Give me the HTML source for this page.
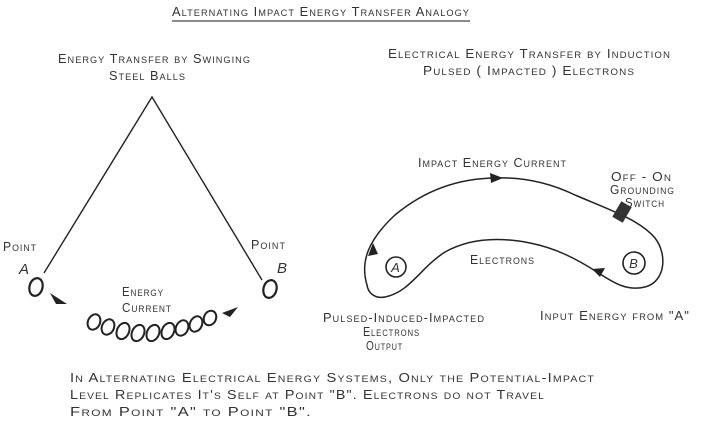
<!DOCTYPE html>
<html><head><meta charset="utf-8"><style>
html,body{margin:0;padding:0;background:#fff;}
svg text{font-family:"Liberation Sans",sans-serif;font-variant:small-caps;fill:#333;font-size:12.5px;letter-spacing:1px;}
</style></head><body>
<svg width="701" height="423" viewBox="0 0 701 423" xmlns="http://www.w3.org/2000/svg">
<text x="172" y="16" textLength="298" lengthAdjust="spacingAndGlyphs">Alternating Impact Energy Transfer Analogy</text>
<line x1="172" y1="21" x2="470" y2="21" stroke="#444" stroke-width="1.3"/>
<text x="58" y="63" textLength="193" lengthAdjust="spacingAndGlyphs">Energy Transfer by Swinging</text>
<text x="109" y="80" textLength="77" lengthAdjust="spacingAndGlyphs">Steel Balls</text>
<text x="388" y="58" textLength="283" lengthAdjust="spacingAndGlyphs">Electrical Energy Transfer by Induction</text>
<text x="423" y="75" textLength="212" lengthAdjust="spacingAndGlyphs">Pulsed ( Impacted ) Electrons</text>
<path d="M44,273 L152,97 L262,280" fill="none" stroke="#222" stroke-width="1.4"/>
<text x="3" y="251" textLength="34" lengthAdjust="spacingAndGlyphs">Point</text>
<text x="251" y="249" textLength="35" lengthAdjust="spacingAndGlyphs">Point</text>
<text x="19" y="274" style="font-style:italic;font-size:15px;font-variant:normal">A</text>
<text x="277" y="273" style="font-style:italic;font-size:15px;font-variant:normal">B</text>
<ellipse cx="36" cy="287" rx="6.5" ry="9" fill="none" stroke="#222" stroke-width="2.2" transform="rotate(15 36 287)"/>
<ellipse cx="270" cy="289" rx="6.5" ry="9" fill="none" stroke="#222" stroke-width="2.2" transform="rotate(15 270 289)"/>
<text x="122" y="296" textLength="42" lengthAdjust="spacingAndGlyphs">Energy</text>
<text x="122" y="312" textLength="50" lengthAdjust="spacingAndGlyphs">Current</text>
<g fill="none" stroke="#222" stroke-width="2">
<ellipse cx="94" cy="322" rx="6" ry="8" transform="rotate(25 94 322)"/>
<ellipse cx="108" cy="327" rx="6" ry="8" transform="rotate(25 108 327)"/>
<ellipse cx="123" cy="331" rx="6" ry="8.5" transform="rotate(25 123 331)"/>
<ellipse cx="138" cy="333" rx="6" ry="8.5" transform="rotate(25 138 333)"/>
<ellipse cx="153" cy="333" rx="6" ry="8.5" transform="rotate(25 153 333)"/>
<ellipse cx="168" cy="331" rx="6" ry="8.5" transform="rotate(25 168 331)"/>
<ellipse cx="182" cy="328" rx="6" ry="8" transform="rotate(25 182 328)"/>
<ellipse cx="196" cy="324" rx="6" ry="8" transform="rotate(25 196 324)"/>
<ellipse cx="210" cy="318" rx="6" ry="7.5" transform="rotate(25 210 318)"/>
</g>
<path d="M50,293 L67,304 L56,304 Z" fill="#222"/>
<path d="M238,307 L222,313 L230,317 Z" fill="#222"/>
<path d="M367,285 C360,262 368,240 395,215 C425,190 460,178 497,178 C525,177 550,183 575,195 C610,210 640,220 655,238 C668,255 665,282 645,287 C625,292 610,280 597,272 C575,258 555,248 530,243 C500,237 470,238 445,252 C420,268 410,292 385,297 C375,299 368,293 367,285 Z" fill="none" stroke="#222" stroke-width="1.5"/>
<path d="M373,243 L368,256 L378,254 Z" fill="#222"/>
<path d="M503,178 L490,173 L491,183 Z" fill="#222"/>
<path d="M592,269 L605,268 L600,277 Z" fill="#222"/>
<rect x="616" y="203" width="12" height="18" fill="#333" transform="rotate(30 622 212)"/>
<circle cx="396" cy="267" r="10" fill="none" stroke="#222" stroke-width="1.6"/>
<circle cx="634" cy="263" r="11" fill="none" stroke="#222" stroke-width="1.6"/>
<text x="396" y="272" text-anchor="middle" style="font-style:italic;font-size:13px;font-variant:normal">A</text>
<text x="634" y="268" text-anchor="middle" style="font-style:italic;font-size:13px;font-variant:normal">B</text>
<text x="418" y="167" textLength="149" lengthAdjust="spacingAndGlyphs">Impact Energy Current</text>
<text x="611" y="181" textLength="61" lengthAdjust="spacingAndGlyphs">Off - On</text>
<text x="610" y="194" textLength="65" lengthAdjust="spacingAndGlyphs">Grounding</text>
<text x="625" y="207" textLength="40" lengthAdjust="spacingAndGlyphs">Switch</text>
<text x="470" y="264" textLength="65" lengthAdjust="spacingAndGlyphs">Electrons</text>
<text x="323" y="322" textLength="162" lengthAdjust="spacingAndGlyphs">Pulsed-Induced-Impacted</text>
<text x="363" y="336" textLength="57" lengthAdjust="spacingAndGlyphs">Electrons</text>
<text x="366" y="350" textLength="37" lengthAdjust="spacingAndGlyphs">Output</text>
<text x="540" y="320" textLength="150" lengthAdjust="spacingAndGlyphs">Input Energy from "A"</text>
<text x="70" y="382" textLength="525" lengthAdjust="spacingAndGlyphs">In Alternating Electrical Energy Systems, Only the Potential-Impact</text>
<text x="70" y="399" textLength="475" lengthAdjust="spacingAndGlyphs">Level Replicates It's Self at Point "B".  Electrons do not Travel</text>
<text x="70" y="416" textLength="242" lengthAdjust="spacingAndGlyphs">From Point "A" to Point "B".</text>
</svg>
</body></html>
